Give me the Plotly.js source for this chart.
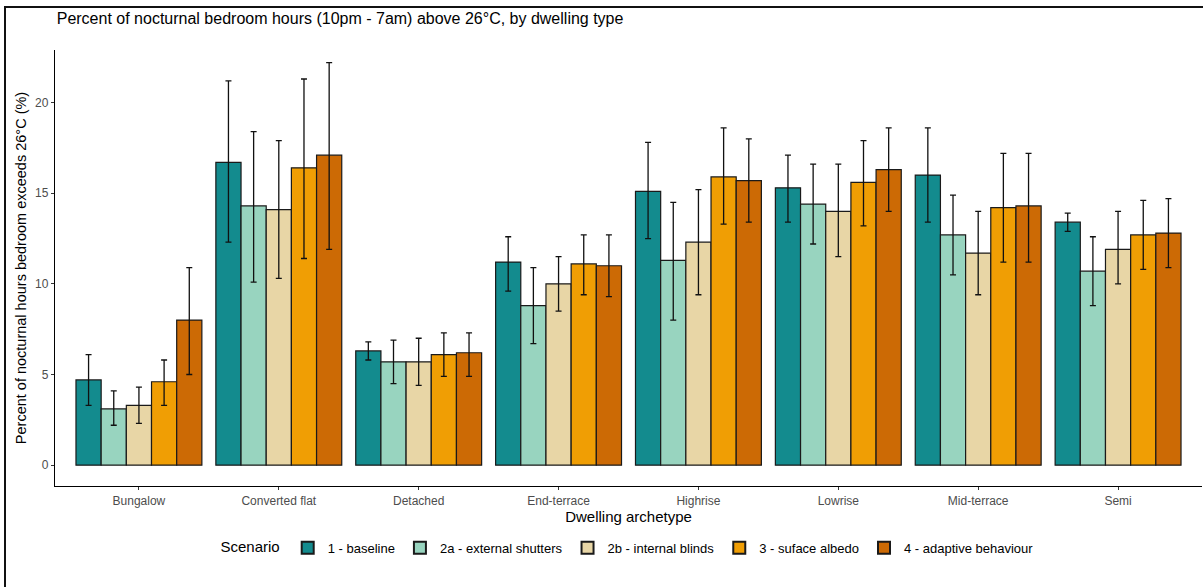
<!DOCTYPE html>
<html>
<head>
<meta charset="utf-8">
<script src="https://cdn.plot.ly/plotly-3.0.1.min.js"></script>
<style>
  html, body { margin: 0; padding: 0; background: #fff; }
  #wrap { position: relative; width: 1203px; height: 587px; overflow: hidden; }
  #chart { width: 1203px; height: 587px; }
  #frame { position: absolute; left: 4px; top: 6px; width: 1210px; height: 600px;
           border-left: 2px solid #111; border-top: 2px solid #111; pointer-events: none; }
</style>
</head>
<body>
<div id="wrap">
  <div id="chart"></div>
  <div id="frame"></div>
</div>
<script>
const categories = ["Bungalow", "Converted flat", "Detached", "End-terrace", "Highrise", "Lowrise", "Mid-terrace", "Semi"];
const scenarios = ["1 - baseline", "2a - external shutters", "2b - internal blinds", "3 - suface albedo", "4 - adaptive behaviour"];
const colors = ["#138b8e", "#98d4bf", "#e8d6a6", "#f09e04", "#cc6a05"];

// mean values per scenario (one value per dwelling category)
const baseline  = [4.7, 16.7, 6.3, 11.2, 15.1, 15.3, 16.0, 13.4];
const shutters  = [3.1, 14.3, 5.7,  8.8, 11.3, 14.4, 12.7, 10.7];
const blinds    = [3.3, 14.1, 5.7, 10.0, 12.3, 14.0, 11.7, 11.9];
const albedo    = [4.6, 16.4, 6.1, 11.1, 15.9, 15.6, 14.2, 12.7];
const adaptive  = [8.0, 17.1, 6.2, 11.0, 15.7, 16.3, 14.3, 12.8];

// error bar lower / upper limits
const baselineLo = [3.3, 12.3, 5.8,  9.6, 12.5, 13.4, 13.4, 12.9];
const baselineHi = [6.1, 21.2, 6.8, 12.6, 17.8, 17.1, 18.6, 13.9];
const shuttersLo = [2.2, 10.1, 4.5,  6.7,  8.0, 12.2, 10.5,  8.8];
const shuttersHi = [4.1, 18.4, 6.9, 10.9, 14.5, 16.6, 14.9, 12.6];
const blindsLo   = [2.3, 10.3, 4.4,  8.5,  9.4, 11.5,  9.4, 10.0];
const blindsHi   = [4.3, 17.9, 7.0, 11.5, 15.2, 16.6, 14.0, 14.0];
const albedoLo   = [3.3, 11.4, 4.9,  9.4, 13.3, 13.2, 11.2, 10.8];
const albedoHi   = [5.8, 21.3, 7.3, 12.7, 18.6, 17.9, 17.2, 14.6];
const adaptiveLo = [5.0, 11.9, 4.9,  9.3, 13.4, 14.0, 11.2, 10.9];
const adaptiveHi = [10.9, 22.2, 7.3, 12.7, 18.0, 18.6, 17.2, 14.7];

const series = [
  [baseline, baselineLo, baselineHi],
  [shutters, shuttersLo, shuttersHi],
  [blinds, blindsLo, blindsHi],
  [albedo, albedoLo, albedoHi],
  [adaptive, adaptiveLo, adaptiveHi]
];

const traces = series.map((s, i) => ({
  type: "bar",
  name: scenarios[i],
  x: categories,
  y: s[0],
  marker: { color: colors[i], line: { color: "#1a1a1a", width: 1.2 } },
  error_y: {
    type: "data", symmetric: false,
    array: s[0].map((v, k) => s[2][k] - v),
    arrayminus: s[0].map((v, k) => v - s[1][k]),
    color: "#111", thickness: 1.3, width: 3
  },
  hoverinfo: "x+y+name"
}));

const layout = {
  width: 1203, height: 587,
  margin: { l: 55, r: 1, t: 50, b: 101 },
  paper_bgcolor: "#fff", plot_bgcolor: "#fff",
  font: { family: "Liberation Sans, Arial, sans-serif", color: "#000" },
  title: {
    text: "Percent of nocturnal bedroom hours (10pm - 7am) above 26°C, by dwelling type",
    font: { size: 16, color: "#000" },
    x: 0.0015, xref: "paper", xanchor: "left", y: 0.969, yanchor: "middle"
  },
  barmode: "group", bargap: 0.1, bargroupgap: 0,
  xaxis: {
    type: "category",
    showline: true, linecolor: "#000", linewidth: 1.2,
    ticks: "outside", ticklen: 3, tickcolor: "#333", tickwidth: 1,
    tickfont: { size: 12, color: "#4d4d4d" },
    showgrid: false, zeroline: false,
    range: [-0.6, 7.6],
    title: { text: "Dwelling archetype", font: { size: 15, color: "#000" }, standoff: 2 }
  },
  yaxis: {
    range: [-1.15, 22.9],
    tickvals: [0, 5, 10, 15, 20],
    showline: true, linecolor: "#000", linewidth: 1.2,
    ticks: "outside", ticklen: 3, tickcolor: "#333", tickwidth: 1,
    tickfont: { size: 12, color: "#4d4d4d" },
    showgrid: false, zeroline: false,
    title: { text: "Percent of nocturnal hours bedroom exceeds 26°C (%)", font: { size: 14.5, color: "#000" }, standoff: 5 }
  },
  showlegend: true,
  legend: {
    orientation: "h", x: 0.5, xanchor: "center", y: -0.142, yanchor: "middle",
    title: { text: "Scenario", font: { size: 15, color: "#000" }, side: "left" },
    font: { size: 13, color: "#000" },
    itemsizing: "constant", traceorder: "normal"
  }
};

Plotly.newPlot("chart", traces, layout, { displayModeBar: false, staticPlot: true });
</script>
</body>
</html>
